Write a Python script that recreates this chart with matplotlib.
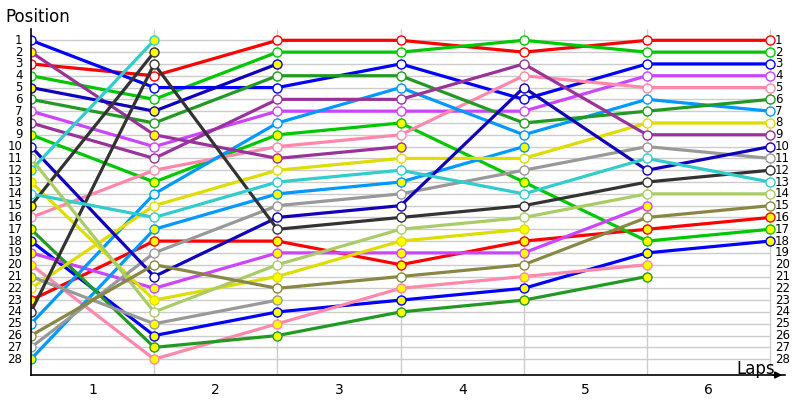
import numpy as np
from matplotlib import pyplot as plt

laps = [0, 1, 2, 3, 4, 5, 6]
lap_labels = ["1", "2", "3", "4", "5", "6"]
n_places = 28

# one row per car: position at each lap (None = out)
positions = [
    [3, 4, 1, 1, 2, 1, 1],
    [23, 18, 18, 20, 18, 17, 16],
    [4, 6, 2, 2, 1, 2, 2],
    [9, 13, 9, 8, 13, 18, 17],
    [1, 5, 5, 3, 6, 3, 3],
    [18, 26, 24, 23, 22, 19, 18],
    [7, 10, 7, 7, 7, 4, 4],
    [19, 22, 19, 19, 19, 15, None],
    [16, 12, 10, 9, 4, 5, 5],
    [20, 28, 25, 22, 21, 20, None],
    [25, 14, 8, 5, 9, 6, 7],
    [28, 17, 14, 13, 10, None, None],
    [6, 8, 4, 4, 8, 7, 6],
    [17, 27, 26, 24, 23, 21, None],
    [22, 15, 12, 11, 11, 8, 8],
    [13, 23, 21, 18, 17, None, None],
    [8, 11, 6, 6, 3, 9, 9],
    [2, 9, 11, 10, None, None, None],
    [27, 19, 15, 14, 12, 10, 11],
    [21, 25, 23, None, None, None, None],
    [10, 21, 16, 15, 5, 12, 10],
    [5, 7, 3, None, None, None, None],
    [24, 3, 17, 16, 15, 13, 12],
    [15, 2, None, None, None, None, None],
    [14, 16, 13, 12, 14, 11, 13],
    [12, 1, None, None, None, None, None],
    [11, 24, 20, 17, 16, 14, 14],
    [26, 20, 22, 21, 20, 16, 15],
]
colors = [
    "#ff0000", "#ff0000", "#00c800", "#00c800", "#0000ff", "#0000ff",
    "#cc44ff", "#cc44ff", "#ff88aa", "#ff88aa", "#0099ff", "#0099ff",
    "#229922", "#229922", "#dddd00", "#dddd00", "#993399", "#993399",
    "#999999", "#999999", "#1100bb", "#1100bb", "#333333", "#333333",
    "#33cccc", "#33cccc", "#aacc66", "#888844",
]
yellow_fill = [False, True] * 13 + [False, False]

fig = plt.figure(figsize=(8, 4), dpi=100)
ax = fig.add_axes([31 / 800, 25 / 400, 754 / 800, 346.5 / 400])
ax.set_xlim(0, 6.12)
ax.set_ylim(29.34, 0)

# grid
ax.hlines(range(1, n_places + 1), 0, 6, color="#cccccc", lw=1, zorder=1)
ax.vlines(laps[1:], 0, 29.34, color="#cccccc", lw=1, zorder=1)

for pos, col, yf in zip(positions, colors, yellow_fill):
    y = np.array([np.nan if p is None else p for p in pos], dtype=float)
    ax.plot(laps, y, color=col, lw=2.3, zorder=2,
            marker="o", ms=6.5, mec=col, mew=1.0,
            mfc="#ffff00" if yf else "white")

for p in range(1, n_places + 1):
    ax.text(-0.07, p, str(p), ha="right", va="center", fontsize=8.5)
    ax.text(6.04, p, str(p), ha="left", va="center", fontsize=8.5)

ax.set_xticks([i + 0.5 for i in range(6)])
ax.set_xticklabels(lap_labels, fontsize=10)
ax.tick_params(axis="x", length=0, pad=6)
ax.set_yticks([])

for s in ["top", "right"]:
    ax.spines[s].set_visible(False)
ax.spines["left"].set_linewidth(1.2)
ax.spines["bottom"].set_linewidth(1.2)
ax.annotate("", xy=(6.12, 29.34), xytext=(6.0, 29.34),
            arrowprops=dict(arrowstyle="-|>", color="black", lw=1.2),
            annotation_clip=False)

fig.text(5 / 800, 1 - 17 / 400, "Position", fontsize=12, va="center")
fig.text(736 / 800, 1 - 369 / 400, "Laps", fontsize=12, va="center")

fig.savefig("out.png", dpi=100)
